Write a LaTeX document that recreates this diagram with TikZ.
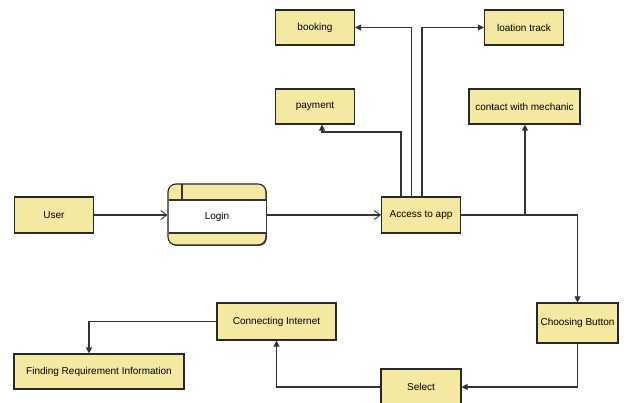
\documentclass[tikz,border=0pt]{standalone}
\usepackage{fontspec}
\setmainfont{Liberation Sans}
\usetikzlibrary{arrows.meta,shadows}
\definecolor{boxfill}{RGB}{244,233,161}
\definecolor{boxline}{RGB}{40,40,40}
\tikzset{
  txt/.style={font=\fontsize{10}{12}\selectfont},
  proc/.style={draw=boxline, line width=1.1pt, fill=boxfill, inner sep=1pt, txt,
    drop shadow={shadow xshift=0.9pt, shadow yshift=-0.9pt, fill=black!75, opacity=1}},
  conn/.style={draw=black!80, line width=1.1pt, -{Triangle[length=6pt,width=6pt]}},
  openconn/.style={draw=black!80, line width=1.1pt, -{Straight Barb[length=6pt,width=9pt,line width=0.9pt]}},
  line/.style={draw=black!80, line width=1.1pt}
}
\begin{document}
\begin{tikzpicture}[x=1pt,y=-1pt]
\clip (0,0) rectangle (626,402);
\fill[white] (0,0) rectangle (626,402);
% boxes
\node[proc, minimum width=79pt, minimum height=35pt] (booking) at (315,27.5) {booking};
\node[proc, minimum width=79pt, minimum height=35pt] (track) at (524,27.5) {loation track};
\node[proc, minimum width=79pt, minimum height=35pt] (payment) at (315,106.5) {payment};
\node[proc, minimum width=111pt, minimum height=35pt] (mech) at (524.5,106.5) {contact with mechanic};
\node[proc, minimum width=79pt, minimum height=36pt] (user) at (54,215) {User};
\node[proc, minimum width=79pt, minimum height=36pt] (access) at (421,215) {Access to app};
\node[proc, minimum width=81pt, minimum height=40pt, inner sep=0pt] (choose) at (577.5,323) {Choosing Button};
\node[proc, minimum width=119pt, minimum height=37pt] (internet) at (276.5,321.5) {Connecting Internet};
\node[proc, minimum width=170pt, minimum height=35pt] (finding) at (99,371.5) {Finding Requirement Information};
\node[proc, minimum width=80pt, minimum height=36pt] (select) at (421,387) {Select};
% login data store
\node[proc, rounded corners=8pt, minimum width=98pt, minimum height=61pt] (login) at (217,214.5) {};
\fill[white] (168.5,200) rectangle (265.5,233);
\draw[line] (168.5,200) -- (265.5,200);
\draw[line] (168.5,233) -- (265.5,233);
\draw[line] (182,184) -- (182,200);
\node[txt] (logintext) at (217,216.5) {Login};
% connectors
\draw[openconn] (user.east) -- (user.east -| login.west);
\draw[openconn] (login.east |- access.west) -- (access.west);
\coordinate (a1) at (401,197);
\coordinate (a2) at (411.5,197);
\coordinate (a3) at (422,197);
\draw[conn] (a1) |- (322,132) -- (payment.south -| 322,0);
\draw[conn] (a2) |- (booking.east);
\draw[conn] (a3) |- (track.west);
\coordinate (j) at (525,215);
\draw[line] (access.east) -- (j);
\draw[conn] (j) -- (mech.south -| j);
\draw[conn] (j) -| (choose.north);
\draw[conn] (choose.south) |- (select.east);
\draw[conn] (select.west) -| (internet.south);
\draw[conn] (internet.west) -| (finding.north -| 89,0);
\end{tikzpicture}
\end{document}
